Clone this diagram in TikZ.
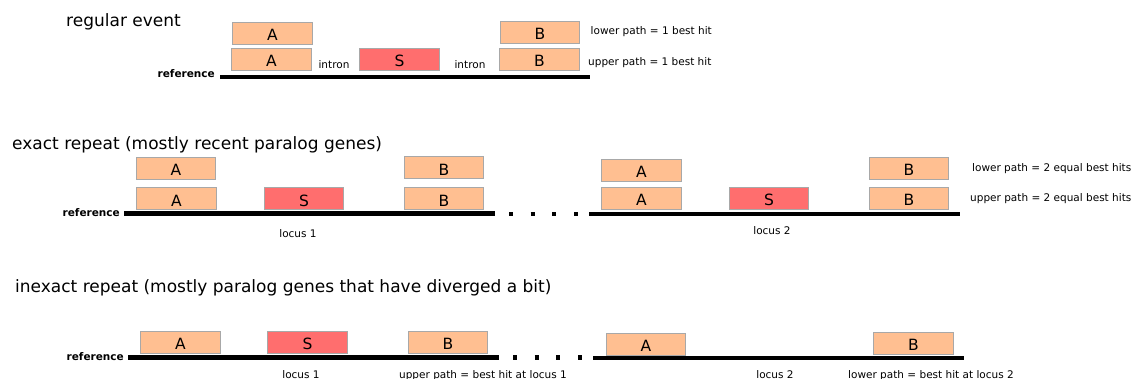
\documentclass[tikz,border=0pt]{standalone}
\usepackage{fontspec}
\setmainfont{DejaVu Sans}
\definecolor{peach}{HTML}{FFBF91}
\definecolor{redbox}{HTML}{FF6E6E}
\definecolor{boxline}{HTML}{A8A8A8}
\begin{document}
\begin{tikzpicture}[x=1pt,y=-1pt,
  hit/.style={draw=boxline,line width=0.8pt,minimum width=79.5pt,minimum height=22pt,inner sep=0pt,text height=15pt,text depth=0pt,font=\fontsize{15.5}{15.5}\selectfont},
  abox/.style={hit,fill=peach},
  sbox/.style={hit,fill=redbox},
  title/.style={anchor=mid west,inner sep=0pt,font=\fontsize{17}{17}\selectfont},
  small/.style={inner sep=0pt,font=\fontsize{10.5}{10.5}\selectfont},
  reflab/.style={anchor=mid east,inner sep=0pt,font=\fontsize{10.5}{10.5}\selectfont\bfseries},
  refline/.style={line width=4.3pt},
  dots/.style={line width=4.3pt,dash pattern=on 4pt off 17.7pt}]
\useasboundingbox (0,0) rectangle (1133,378);

% ---------- regular event ----------
\node[title] (t1) at (66,23.5) {regular event};
\node[abox] (a1u) at (272.5,33) {A};
\node[abox] (a1l) at (271.5,59) {A};
\node[sbox] (s1) at (399.5,59) {S};
\node[abox] (b1u) at (540,32) {B};
\node[abox] (b1l) at (539.5,59) {B};
\node[small,anchor=mid] (i1) at (334,65.5) {intron};
\node[small,anchor=mid] (i2) at (470,65.5) {intron};
\node[small,anchor=mid west] (l1) at (590.5,31.5) {lower path = 1 best hit};
\node[small,anchor=mid west] (u1) at (588,62.5) {upper path = 1 best hit};
\node[reflab] (r1) at (215,74.5) {reference};
\coordinate (r1s) at (220,77);
\coordinate (r1e) at (590,77);
\draw[refline] (r1s) -- (r1e);

% ---------- exact repeat ----------
\node[title] (t2) at (12,146.5) {exact repeat (mostly recent paralog genes)};
\node[abox] (a2u) at (176,168) {A};
\node[abox] (a2l) at (176.5,198.5) {A};
\node[sbox] (s2) at (304,198.5) {S};
\node[abox] (b2u) at (444,167.5) {B};
\node[abox] (b2l) at (444,198.5) {B};
\node[reflab] (r2) at (120,214) {reference};
\coordinate (r2s) at (124,213.5);
\coordinate (r2e) at (495,213.5);
\draw[refline] (r2s) -- (r2e);
\node[small,anchor=mid] (loc1) at (298,234.5) {locus 1};
\coordinate (d2s) at (509,214);
\coordinate (d2e) at (578,214);
\draw[dots] (d2s) -- (d2e);
\node[abox] (a3u) at (641.5,170) {A};
\node[abox] (a3l) at (641.5,198) {A};
\node[sbox] (s3) at (769,198) {S};
\node[abox] (b3u) at (909,168) {B};
\node[abox] (b3l) at (909,198) {B};
\coordinate (r3s) at (589,214);
\coordinate (r3e) at (960,214);
\draw[refline] (r3s) -- (r3e);
\node[small,anchor=mid] (loc2) at (772,231.5) {locus 2};
\node[small,anchor=mid west] (l2) at (972,168.5) {lower path = 2 equal best hits};
\node[small,anchor=mid west] (u2) at (970,198.5) {upper path = 2 equal best hits};

% ---------- inexact repeat ----------
\node[title] (t3) at (15,289.5) {inexact repeat (mostly paralog genes that have diverged a bit)};
\node[abox] (a4) at (180.5,342) {A};
\node[sbox] (s4) at (307.5,342) {S};
\node[abox] (b4) at (448,342) {B};
\node[reflab] (r4) at (124,357.5) {reference};
\coordinate (r4s) at (128,357.5);
\coordinate (r4e) at (499,357.5);
\draw[refline] (r4s) -- (r4e);
\coordinate (d4s) at (513,357.5);
\coordinate (d4e) at (582,357.5);
\draw[dots] (d4s) -- (d4e);
\node[abox] (a5) at (646,344) {A};
\node[abox] (b5) at (913.5,343) {B};
\coordinate (r5s) at (593,358);
\coordinate (r5e) at (964,358);
\draw[refline] (r5s) -- (r5e);
\node[small,anchor=base] (loc3) at (301,378) {locus 1};
\node[small,anchor=base] (u3) at (483,378) {upper path = best hit at locus 1};
\node[small,anchor=base] (loc4) at (775,378) {locus 2};
\node[small,anchor=base] (l3) at (931,378) {lower path = best hit at locus 2};
\end{tikzpicture}
\end{document}
